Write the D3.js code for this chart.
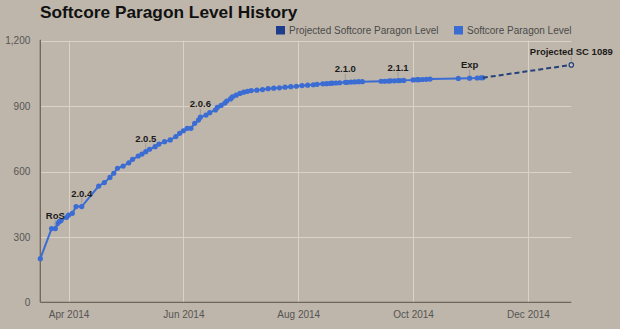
<!DOCTYPE html>
<html>
<head>
<meta charset="utf-8">
<script src="https://cdn.jsdelivr.net/npm/d3@7"></script>
<style>
  html, body { margin: 0; padding: 0; background: #beb6aa; }
  svg { display: block; font-family: "Liberation Sans", Arial, sans-serif; }
</style>
</head>
<body>
<svg id="chart" width="620" height="329"></svg>
<script>
// Recorded softcore paragon levels
const dates = [
  "2014-03-17","2014-03-23","2014-03-25","2014-03-26","2014-03-27","2014-03-28",
  "2014-03-31","2014-04-01","2014-04-03","2014-04-05","2014-04-08","2014-04-17",
  "2014-04-20","2014-04-23","2014-04-25","2014-04-27","2014-04-30","2014-05-03",
  "2014-05-05","2014-05-08","2014-05-10","2014-05-12","2014-05-14","2014-05-17",
  "2014-05-19","2014-05-22","2014-05-25","2014-05-28","2014-05-30","2014-06-01",
  "2014-06-03","2014-06-05","2014-06-07","2014-06-09","2014-06-10","2014-06-13",
  "2014-06-15","2014-06-18","2014-06-19","2014-06-21","2014-06-23","2014-06-24",
  "2014-06-26","2014-06-27","2014-06-29","2014-07-01","2014-07-03","2014-07-05",
  "2014-07-07","2014-07-10","2014-07-13","2014-07-16","2014-07-19","2014-07-22",
  "2014-07-25","2014-07-28","2014-07-31","2014-08-03","2014-08-06","2014-08-09",
  "2014-08-11","2014-08-14","2014-08-16","2014-08-18","2014-08-19","2014-08-21",
  "2014-08-23","2014-08-26","2014-08-27","2014-08-29","2014-08-31","2014-09-02",
  "2014-09-04","2014-09-14","2014-09-16","2014-09-18","2014-09-19","2014-09-21",
  "2014-09-23","2014-09-24","2014-09-26","2014-10-01","2014-10-03","2014-10-04",
  "2014-10-06","2014-10-08","2014-10-10","2014-10-25","2014-10-31","2014-11-04",
  "2014-11-06","2014-11-07"
];
const levels = [
  200, 338, 338, 360, 370, 375,
  390, 400, 408, 439, 439, 533,
  549, 573, 592, 615, 625, 640,
  656, 671, 680, 691, 702, 714,
  726, 737, 745, 760, 775, 787,
  798, 798, 821, 836, 849, 859,
  870, 882, 894, 903, 914, 923,
  933, 942, 950, 958, 964, 968,
  971, 973, 976, 980, 982, 984,
  987, 989, 991, 994, 996, 998,
  1000, 1002, 1003, 1004, 1005, 1006,
  1007, 1009, 1009, 1010, 1011, 1012,
  1012, 1014, 1014, 1015, 1016, 1016,
  1017, 1017, 1018, 1020, 1021, 1021,
  1022, 1023, 1024, 1027, 1028, 1029,
  1030, 1030
];

// Projection from the last recorded level
const projDates = ["2014-11-07", "2014-12-24"];
const projLevels = [1030, 1089];

// Patch / event annotations on the recorded series
const annoLabels = ["RoS", "2.0.4", "2.0.5", "2.0.6", "2.1.0", "2.1.1", "Exp"];
const annoDates = ["2014-03-25", "2014-04-08", "2014-05-12", "2014-06-10",
                   "2014-08-26", "2014-09-23", "2014-10-31"];
const projLabel = "Projected SC 1089";

const seriesNames = ["Projected Softcore Paragon Level", "Softcore Paragon Level"];
const xTickDates = ["2014-04-01", "2014-06-01", "2014-08-01", "2014-10-01", "2014-12-01"];
const yTicks = [0, 300, 600, 900, 1200];

const parse = d3.utcParse("%Y-%m-%d");
const actual = dates.map((d, i) => ({ date: parse(d), value: levels[i] }));
const projected = projDates.map((d, i) => ({ date: parse(d), value: projLevels[i] }));

const blue = "#3b6cd3";
const navy = "#1e3c8c";

const svg = d3.select("#chart");
const plotL = 40.3, plotR = 571.3, plotT = 40.7, plotB = 302.3;

const x = d3.scaleUtc()
  .domain([actual[0].date, projected[projected.length - 1].date])
  .range([plotL, plotR]);
const y = d3.scaleLinear().domain([0, 1200]).range([plotB, plotT]);

// Title
svg.append("text")
  .attr("x", 40).attr("y", 17.5)
  .attr("font-size", 17.3).attr("font-weight", "bold")
  .attr("fill", "#111")
  .text("Softcore Paragon Level History");

// Legend
const legendColors = [navy, blue];
const legendX = [276, 454];
seriesNames.forEach((name, i) => {
  svg.append("rect")
    .attr("x", legendX[i]).attr("y", 26)
    .attr("width", 9).attr("height", 8.5)
    .attr("fill", legendColors[i]);
  svg.append("text")
    .attr("x", legendX[i] + 13).attr("y", 34)
    .attr("font-size", 10).attr("fill", "#4a4a4a")
    .text(name);
});

// Gridlines
const xTicks = xTickDates.map(parse);
svg.append("g")
  .selectAll("line")
  .data(yTicks.filter(t => t > 0))
  .join("line")
  .attr("x1", plotL).attr("x2", plotR)
  .attr("y1", d => Math.round(y(d)) + 0.5).attr("y2", d => Math.round(y(d)) + 0.5)
  .attr("stroke", "#d8d2c9").attr("stroke-width", 1);
svg.append("g")
  .selectAll("line")
  .data(xTicks)
  .join("line")
  .attr("x1", d => Math.round(x(d)) + 0.5).attr("x2", d => Math.round(x(d)) + 0.5)
  .attr("y1", plotT).attr("y2", plotB)
  .attr("stroke", "#d8d2c9").attr("stroke-width", 1);

// Axes
const yAxis = d3.axisLeft(y).tickValues(yTicks).tickFormat(d3.format(",")).tickSize(0).tickPadding(10);
const gy = svg.append("g").attr("transform", `translate(${plotL},0)`).call(yAxis);
gy.select(".domain").remove();
gy.selectAll("text").attr("font-size", 10).attr("fill", "#555").attr("font-family", null);

const xAxis = d3.axisBottom(x).tickValues(xTicks).tickFormat(d3.utcFormat("%b %Y")).tickSize(0).tickPadding(9);
const gx = svg.append("g").attr("transform", `translate(0,${plotB})`).call(xAxis);
gx.select(".domain").remove();
gx.selectAll("text").attr("font-size", 10).attr("fill", "#555").attr("font-family", null);

svg.append("line")
  .attr("x1", plotL).attr("x2", plotL).attr("y1", plotT - 1).attr("y2", plotB)
  .attr("stroke", "#6e665c").attr("stroke-width", 1.3);
svg.append("line")
  .attr("x1", plotL).attr("x2", plotR).attr("y1", plotB).attr("y2", plotB)
  .attr("stroke", "#6e665c").attr("stroke-width", 1.3);

// Recorded series
const line = d3.line().x(d => x(d.date)).y(d => y(d.value));
svg.append("path")
  .datum(actual)
  .attr("d", line)
  .attr("fill", "none").attr("stroke", blue).attr("stroke-width", 2);
svg.append("g")
  .selectAll("circle")
  .data(actual)
  .join("circle")
  .attr("cx", d => x(d.date)).attr("cy", d => y(d.value)).attr("r", 2.6)
  .attr("fill", blue);

// Projected series
svg.append("path")
  .datum(projected)
  .attr("d", line)
  .attr("fill", "none").attr("stroke", "#25427a").attr("stroke-width", 2)
  .attr("stroke-dasharray", "5,3");
const last = projected[projected.length - 1];
svg.append("circle")
  .attr("cx", x(last.date)).attr("cy", y(last.value)).attr("r", 2.2)
  .attr("fill", "#c9c3ba").attr("stroke", "#25427a").attr("stroke-width", 1.2);

// Annotations
const annotations = annoLabels.map((label, i) => {
  const p = actual.find(d => +d.date === +parse(annoDates[i]));
  return { label, date: p.date, value: p.value };
});
annotations.push({ label: projLabel, date: last.date, value: last.value });

const ag = svg.append("g");
annotations.forEach(a => {
  const ax = x(a.date), ay = y(a.value);
  ag.append("line")
    .attr("x1", ax).attr("x2", ax).attr("y1", ay - 3).attr("y2", ay - 8.5)
    .attr("stroke", "#999").attr("stroke-width", 1);
  ag.append("text")
    .attr("x", ax).attr("y", ay - 10)
    .attr("text-anchor", "middle")
    .attr("font-size", 9.5).attr("font-weight", "bold")
    .attr("fill", "#1a1a1a")
    .text(a.label);
});
</script>
</body>
</html>
